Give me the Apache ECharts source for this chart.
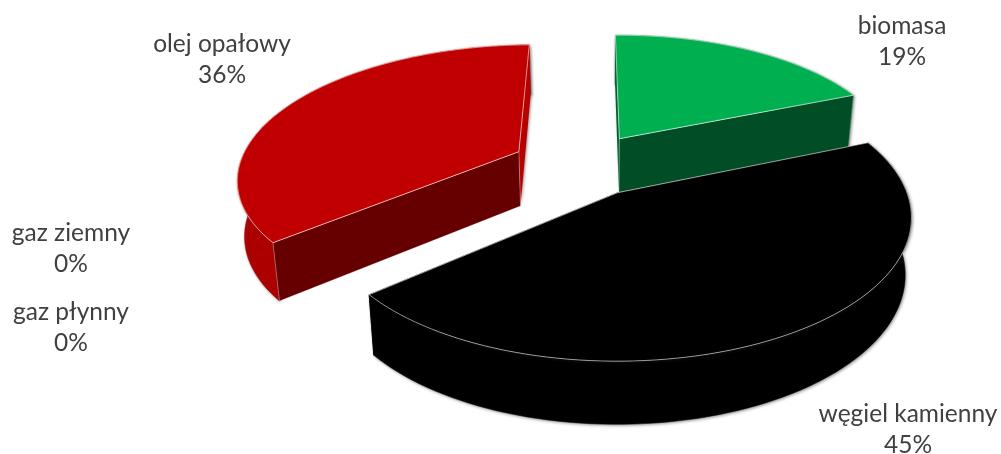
<!DOCTYPE html>
<html>
<head>
<meta charset="utf-8">
<style>html,body{margin:0;padding:0;background:#fff}#chart{width:1001px;height:454px}</style>
<script src="https://cdn.jsdelivr.net/npm/echarts@6/dist/echarts.min.js"></script>
</head>
<body>
<div id="chart"></div>
<script>
const categories = ['biomasa', 'węgiel kamienny', 'gaz płynny', 'gaz ziemny', 'olej opałowy'];
const shares = [19, 45, 0, 0, 36];
const topColors = ['#00b050', '#000000', '#808080', '#808080', '#c00000'];
const frontColors = ['#004d26', '#000000', '#808080', '#808080', '#660000'];
const frontEdges = ['rgba(255,255,255,0.45)', '#000000', '#808080', '#808080', 'rgba(255,255,255,0.45)'];
const outerColors = ['#00632f', '#000000', '#808080', '#808080', '#ac0000'];
const backColors = ['#00632f', '#000000', '#808080', '#808080', '#b80000'];
const labelCentres = [[902, 42], [908, 430], [71, 327.5], [71, 248.5], [222, 60]];
const drawOrder = [1, 3, 3, 1, 1];

const CX = 581, CY = 164.5, VX = 620, RADIUS = 283, RADIUS_X = 279, EXPLODE = 70, TILT = 0.456, PERSP = 0.0006, DEPTH = 55;
const START_DEG = -1;
const total = shares.reduce((a, b) => a + b, 0);
const cumulative = shares.map((_, i) => shares.slice(0, i).reduce((a, b) => a + b, 0));

function project(X, Y, lower) {
  const s = 1 / (1 - Y * PERSP);
  const x = VX + (X + CX - VX) * s, y = CY + TILT * Y * s;
  if (!lower) return [x, y];
  return [600 + (x - 600) * 0.98, y + DEPTH * Math.pow(s, 0.6)];
}

function sliceShapes(i) {
  const start = START_DEG * Math.PI / 180;
  const a0 = start + cumulative[i] / total * 2 * Math.PI;
  const a1 = start + (cumulative[i] + shares[i]) / total * 2 * Math.PI;
  const mid = (a0 + a1) / 2;
  const ox = EXPLODE * Math.sin(mid), oy = -EXPLODE * Math.cos(mid);
  const steps = Math.max(8, Math.round(shares[i] * 2));
  const rim = [];
  for (let k = 0; k <= steps; k++) {
    const a = a0 + (a1 - a0) * k / steps;
    rim.push([ox + RADIUS_X * Math.sin(a), oy - RADIUS * Math.cos(a)]);
  }
  const up = rim.map(p => project(p[0], p[1], false));
  const low = rim.map(p => project(p[0], p[1], true));
  return {up, low, cUp: project(ox, oy, false), cLow: project(ox, oy, true)};
}

function renderItem(params, api) {
  const i = params.dataIndex;
  const children = [];
  const base = drawOrder[i] * 10;
  if (shares[i] > 0) {
    const g = sliceShapes(i);
    const n = g.up.length - 1;
    // the radial face whose rim end sits lower on the page faces the viewer
    const f = g.up[0][1] > g.up[n][1] ? 0 : n;
    const b = f === 0 ? n : 0;
    const shadow = {shadowColor: 'rgba(90,90,90,0.65)', shadowBlur: 3, shadowOffsetX: 1, shadowOffsetY: 1};
    children.push({
      type: 'polygon', z2: base,
      shape: {points: g.up.concat(g.low.slice().reverse())},
      style: Object.assign({fill: outerColors[i], stroke: outerColors[i], lineWidth: 0.5}, shadow)
    });
    children.push({
      type: 'polygon', z2: base + 1,
      shape: {points: [g.cUp, g.up[b], g.low[b], g.cLow]},
      style: Object.assign({fill: backColors[i]}, shadow)
    });
    children.push({
      type: 'polygon', z2: base + 2,
      shape: {points: [g.cUp, g.up[f], g.low[f], g.cLow]},
      style: {fill: frontColors[i], stroke: frontEdges[i], lineWidth: 0.7}
    });
    children.push({
      type: 'polygon', z2: base + 3,
      shape: {points: [g.cUp].concat(g.up)},
      style: {fill: topColors[i], stroke: 'rgba(255,255,255,0.7)', lineWidth: 0.8, lineJoin: 'round'}
    });
  }
  children.push({
    type: 'text', z2: 60,
    style: {
      text: categories[i] + '\n' + api.value(0) + '%',
      x: labelCentres[i][0], y: labelCentres[i][1],
      align: 'center', verticalAlign: 'middle',
      lineHeight: 31, fill: '#404040',
      font: '24.5px Lato, "Open Sans", sans-serif'
    }
  });
  return {type: 'group', children};
}

const chart = echarts.init(document.getElementById('chart'), null, {renderer: 'canvas'});
chart.setOption({
  backgroundColor: '#ffffff',
  animation: false,
  series: [{
    type: 'custom',
    coordinateSystem: 'none',
    renderItem,
    silent: true,
    data: shares.map((v, i) => ({name: categories[i], value: [v]}))
  }]
});
</script>
</body>
</html>
